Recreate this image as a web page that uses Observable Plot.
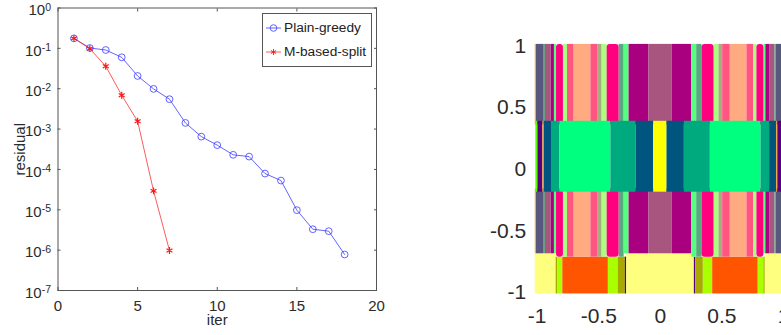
<!DOCTYPE html>
<html>
<head>
<meta charset="utf-8">
<script src="https://cdn.jsdelivr.net/npm/d3@7"></script>
<script src="https://cdn.jsdelivr.net/npm/@observablehq/plot@0.6"></script>
<style>
html,body{margin:0;padding:0;background:#fff;width:781px;height:335px;overflow:hidden;font-family:"Liberation Sans",Arial,sans-serif;}
#left,#right,#legend{position:absolute;}
#left{left:0;top:0;width:390px;height:335px;}
#right{left:390px;top:0;width:391px;height:335px;overflow:hidden;}
#legend{left:262px;top:13px;width:108px;height:52px;border:1px solid #555;background:#fff;color:#222;font-size:13.7px;}
#legend .row{position:absolute;left:0;height:20px;line-height:20px;white-space:nowrap;}
#legend svg{position:absolute;left:3px;top:3px;}
#legend span{position:absolute;left:21px;top:0;}
svg text{font-family:"Liberation Sans",Arial,sans-serif;}
</style>
</head>
<body>
<div id="left"></div>
<div id="right"></div>
<div id="legend">
  <div class="row" style="top:4px"><svg width="16" height="14"><line x1="0" x2="15" y1="7" y2="7" stroke="#3c3cff" stroke-width="0.8"/><circle cx="7.5" cy="7" r="3.3" fill="none" stroke="#3c3cff" stroke-width="0.8"/></svg><span>Plain-greedy</span></div>
  <div class="row" style="top:28px"><svg width="16" height="14"><line x1="0" x2="15" y1="7" y2="7" stroke="#ff3030" stroke-width="0.8"/><g stroke="#ff2020" stroke-width="1"><line x1="7.5" x2="7.5" y1="4" y2="10"/><line x1="4.9" x2="10.1" y1="5.5" y2="8.5"/><line x1="4.9" x2="10.1" y1="8.5" y2="5.5"/></g></svg><span>M-based-split</span></div>
</div>
<script>
// Left panel: residual history
const greedyIter = [1,2,3,4,5,6,7,8,9,10,11,12,13,14,15,16,17,18];
const greedyResidual = [0.177,0.102,0.091,0.06,0.0207,0.0099,0.0055,0.00142,0.00065,0.0004,0.00023,0.000208,7.9e-5,5.3e-5,9.8e-6,3.3e-6,2.95e-6,7.8e-7];
const splitIter = [1,2,3,4,5,6,7];
const splitResidual = [0.177,0.098,0.036,0.0069,0.00156,2.94e-5,9.8e-7];
const xTicksLeft = [0,5,10,15,20];
const yTicksLeft = [1,1e-1,1e-2,1e-3,1e-4,1e-5,1e-6,1e-7];

// Right panel: coloured regions of the partition, by band
const topEdges = [-1.016,-1.006,-0.943,-0.933,-0.886,-0.860,-0.843,-0.787,-0.754,-0.700,-0.564,-0.505,-0.473,-0.432,-0.335,-0.294,-0.254,-0.092,0.095,0.255,0.295,0.338,0.436,0.476,0.506,0.568,0.703,0.757,0.784,0.841,0.857,0.887,0.930,0.941,1.016];
const topColors = ["#f5b040","#58587e","#5fa07f","#a8557f","#a8007f","#55ff7f","#ff007f","#aaff7f","#ff5580","#ffaa80","#ff5580","#a8aa80","#aaff7f","#ff007f","#55aa7f","#55ff7f","#a8007f","#a8557f","#a8007f","#55ff7f","#55aa7f","#ff007f","#aaff7f","#a8aa80","#ff5580","#ffaa80","#ff5580","#aaff7f","#ff007f","#55ff7f","#a8007f","#a8557f","#5fa07f","#58587e"];
const midBottoms = [-0.686,-0.686,-0.686,-0.686,-0.686,-0.686,-0.713,-0.713,-0.713,-0.713,-0.713,-0.713,-0.713,-0.713,-0.713,-0.686,-0.686,-0.686,-0.686,-0.713,-0.713,-0.713,-0.713,-0.713,-0.713,-0.713,-0.713,-0.713,-0.713,-0.686,-0.686,-0.686,-0.686,-0.686];
const centerEdges = [-1.011,-0.994,-0.954,-0.943,-0.884,-0.816,-0.402,-0.197,-0.054,0.054,0.195,0.406,0.817,0.887,0.944,0.954,0.995,1.011];
const centerColors = ["#55ff00","#55007f","#f5a030","#00557f","#00aa7f","#00ff7f","#00aa7f","#00557f","#ffff00","#00557f","#00aa7f","#00ff7f","#00aa7f","#00557f","#f5a030","#55007f","#55ff00"];
const bottomEdges = [-1.016,-0.846,-0.832,-0.792,-0.422,-0.343,-0.284,-0.273,0.276,0.287,0.349,0.425,0.795,0.841,0.852,1.016];
const bottomColors = ["#ffff7f","#a8aa00","#aaff00","#ff5500","#aaff00","#a8aa00","#55007f","#ffff7f","#55007f","#a8aa00","#aaff00","#ff5500","#aaff00","#a8aa00","#ffff7f"];
const bottomTops = [-0.686,-0.713,-0.713,-0.713,-0.713,-0.713,-0.713,-0.686,-0.713,-0.713,-0.713,-0.713,-0.713,-0.713,-0.686];
const bandTop = [1.013,0.36];      // lower end runs under the centre band
const bandCenter = [0.389,-0.186];
const midTop = -0.16;              // upper end runs under the centre band
const bottomEnd = -1.012;
const ticksRight = [-1,-0.5,0,0.5,1];

const ink = "#2b2b2b", frame = "#555";
const greedy = greedyIter.map((x,i)=>({x,y:greedyResidual[i]}));
const split = splitIter.map((x,i)=>({x,y:splitResidual[i]}));

const leftPlot = Plot.plot({
  width:390, height:335,
  marginLeft:57.5, marginRight:14, marginTop:7.5, marginBottom:45,
  style:{maxWidth:"none", background:"transparent", fontFamily:"Liberation Sans", fontSize:"15px", color:ink},
  x:{domain:[0,20]},
  y:{type:"log", domain:[1e-7,1]},
  marks:[
    Plot.frame({stroke:frame, strokeWidth:1}),
    Plot.axisX({ticks:xTicksLeft, tickSize:-3, stroke:frame, tickPadding:13, fontSize:15, label:null, tickFormat:d=>d}),
    Plot.axisX({anchor:"top", ticks:xTicksLeft, tickSize:-3, stroke:frame, tickFormat:()=>null, label:null}),
    Plot.axisY({ticks:yTicksLeft, tickSize:-3, stroke:frame, tickPadding:10, fontSize:15, label:null, tickFormat:d=>String(Math.round(Math.log10(d)))}),
    Plot.axisY({anchor:"right", ticks:yTicksLeft, tickSize:-3, stroke:frame, tickFormat:()=>null, label:null}),
    Plot.text(["iter"],{frameAnchor:"bottom",dy:34,fontSize:15,fill:ink}),
    Plot.text(["residual"],{frameAnchor:"left",rotate:-90,dx:-37.5,fontSize:15,fill:ink,textAnchor:"middle"}),
    Plot.line(greedy,{x:"x",y:"y",stroke:"#3c3cff",strokeWidth:0.8}),
    Plot.dot(greedy,{x:"x",y:"y",r:3.4,stroke:"#3c3cff",strokeWidth:0.8,fill:"none"}),
    Plot.line(split,{x:"x",y:"y",stroke:"#ff3030",strokeWidth:0.8}),
    Plot.dot(split,{x:"x",y:"y",r:3.2,symbol:"asterisk",stroke:"#ff1515",strokeWidth:1.2})
  ]
});
// Exponents as real superscripts on the decade labels
d3.select(leftPlot).selectAll('[aria-label="y-axis tick label"] text').each(function(){
  const exp = this.textContent;
  const t = d3.select(this); t.text("10");
  t.append("tspan").attr("dy","-0.45em").attr("font-size","10.5px").text(exp);
  const tr = this.getAttribute("transform") || "";
  this.setAttribute("transform", tr + " translate(0,2.5)");
});
document.getElementById("left").appendChild(leftPlot);

function segs(edges, colors, y1, y2){
  return colors.map((fill,i)=>({x1:edges[i],x2:edges[i+1],fill,
    y1: typeof y1==="function"?y1(i):y1, y2: typeof y2==="function"?y2(i):y2}));
}
const bottomSegs = segs(bottomEdges,bottomColors,i=>bottomTops[i],bottomEnd);
const centerSegs = segs(centerEdges,centerColors,bandCenter[0],bandCenter[1]);
const upper = segs(topEdges,topColors,bandTop[0],bandTop[1]).concat(segs(topEdges,topColors,midTop,i=>midBottoms[i]));
const rectOpts = {x1:"x1",x2:"x2",y1:"y1",y2:"y2",fill:"fill"};

const rightPlot = Plot.plot({
  width:410, height:335,
  marginLeft:146.7, marginRight:17, marginTop:45.5, marginBottom:43,
  style:{maxWidth:"none", background:"transparent", fontFamily:"Liberation Sans", fontSize:"21px", color:ink},
  x:{domain:[-1,1]},
  y:{domain:[-1,1]},
  marks:[
    Plot.rect(bottomSegs,rectOpts),
    Plot.rect(upper.filter(d=>d.fill!=="#ff007f"),rectOpts),
    Plot.rect(upper.filter(d=>d.fill==="#ff007f"),{...rectOpts,rx:3}),
    Plot.rect(centerSegs,rectOpts),
    Plot.axisX({ticks:ticksRight, tickSize:0, tickPadding:16, fontSize:21, label:null, tickFormat:d=>d}),
    Plot.axisY({ticks:ticksRight, tickSize:0, tickPadding:11, fontSize:21, label:null, tickFormat:d=>d})
  ]
});
document.getElementById("right").appendChild(rightPlot);
</script>
</body>
</html>
